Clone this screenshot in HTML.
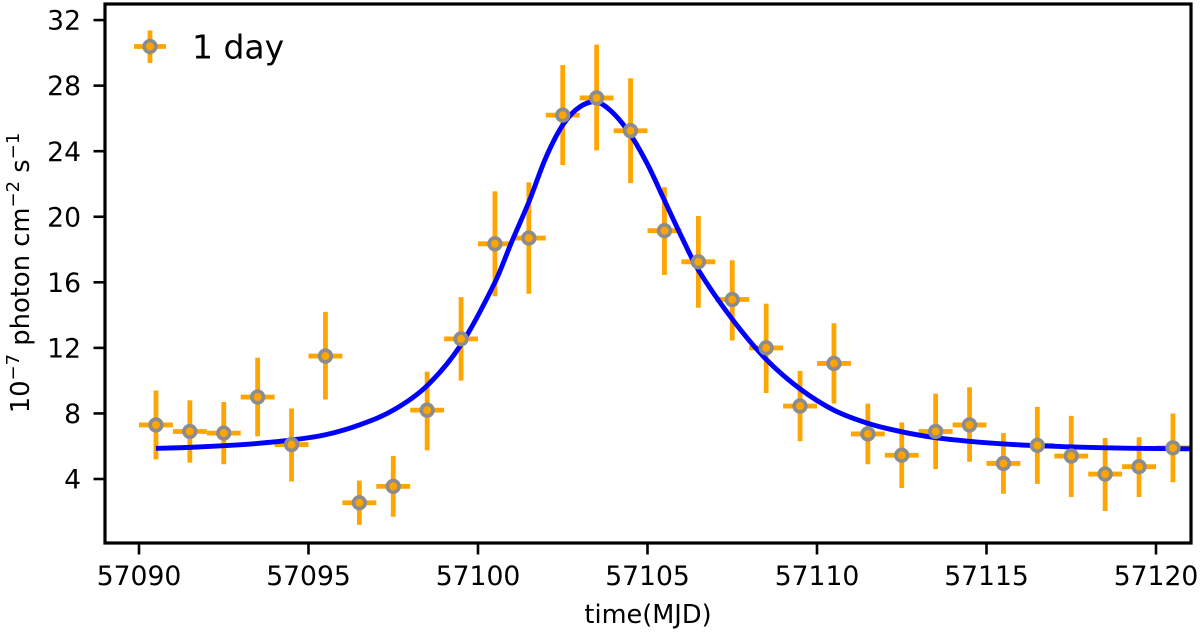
<!DOCTYPE html>
<html>
<head>
<meta charset="utf-8">
<style>
html,body{margin:0;padding:0;background:#fff;width:1200px;height:633px;overflow:hidden}
svg{display:block}
text{font-family:"DejaVu Sans","Liberation Sans",sans-serif;fill:#000}
</style>
</head>
<body>
<svg id="chart" width="1200" height="633" viewBox="0 0 1200 633" xmlns="http://www.w3.org/2000/svg">
  <defs><clipPath id="plot-clip"><rect x="105" y="4" width="1086" height="539"/></clipPath></defs>
  <g id="bars" clip-path="url(#plot-clip)"></g>
  <path id="fit" clip-path="url(#plot-clip)" fill="none" stroke="#0000ff" stroke-width="4.9"/>
  <g id="markers"></g>
  <rect x="105" y="4" width="1086" height="539" fill="none" stroke="#000" stroke-width="3.2"/>
  <g id="xticks"></g>
  <g id="yticks"></g>
  <text x="648" y="623" text-anchor="middle" font-size="25.6">time(MJD)</text>
  <text transform="translate(29,273) rotate(-90)" text-anchor="middle" font-size="25.8">10<tspan dy="-10" font-size="18">−7</tspan><tspan dy="10"> photon cm</tspan><tspan dy="-10" font-size="18">−2</tspan><tspan dy="10"> s</tspan><tspan dy="-10" font-size="18">−1</tspan></text>
  <g>
    <line x1="134" x2="166" y1="46.5" y2="46.5" stroke="#ffa500" stroke-width="4.8"/>
    <line x1="150" x2="150" y1="30.5" y2="63" stroke="#ffa500" stroke-width="4.8"/>
    <circle cx="150" cy="46.5" r="5.8" fill="#ffa500" stroke="#8c8c8c" stroke-width="3.7"/>
    <text x="192" y="58.5" font-size="33">1 day</text>
  </g>
</svg>
<script>
const times = [57090.5,57091.5,57092.5,57093.5,57094.5,57095.5,57096.5,57097.5,57098.5,57099.5,57100.5,57101.5,57102.5,57103.5,57104.5,57105.5,57106.5,57107.5,57108.5,57109.5,57110.5,57111.5,57112.5,57113.5,57114.5,57115.5,57116.5,57117.5,57118.5,57119.5,57120.5];
const fluxValues = [7.3,6.9,6.8,9.0,6.1,11.5,2.55,3.55,8.2,12.55,18.35,18.7,26.2,27.25,25.25,19.15,17.25,14.95,12.0,8.45,11.05,6.75,5.45,6.9,7.3,4.95,6.05,5.4,4.3,4.75,5.9];
const errorLow = [5.2,5.0,4.9,6.6,3.85,8.85,1.2,1.7,5.75,10.0,15.15,15.3,23.15,24.05,22.05,16.45,14.45,12.45,9.25,6.3,8.6,4.9,3.45,4.6,5.05,3.1,3.7,2.9,2.05,2.9,3.8];
const errorHigh = [9.4,8.8,8.7,11.4,8.3,14.2,3.9,5.4,10.55,15.1,21.55,22.1,29.25,30.5,28.45,21.8,20.05,17.35,14.7,10.6,13.5,8.6,7.45,9.2,9.6,6.8,8.4,7.85,6.5,6.55,8.0];
const binHalfWidth = [0.5];
const fitTimes = [57090.5,57091.5,57092.5,57093.5,57094.5,57095.5,57096.5,57097.5,57098.5,57099.5,57100.5,57101,57101.5,57102,57102.5,57103,57103.5,57104,57104.5,57105,57105.5,57106,57106.5,57107.5,57108.5,57109.5,57110.5,57111.5,57112.5,57113.5,57114.5,57115.5,57116.5,57117.5,57118.5,57119.5,57120.5,57121];
const fitValues = [5.87,5.93,6.03,6.17,6.38,6.7,7.3,8.2,9.7,12.2,16.0,18.5,20.9,23.6,25.6,26.7,27.0,26.3,25.0,23.2,21.0,18.8,16.75,13.75,11.3,9.5,8.2,7.4,6.88,6.52,6.3,6.14,6.03,5.96,5.9,5.87,5.85,5.84];
const xTickValues = [57090,57095,57100,57105,57110,57115,57120];
const yTickValues = [4,8,12,16,20,24,28,32];

const NS = 'http://www.w3.org/2000/svg';
function xScale(v){ return 139 + (v - 57090) * 33.9; }
function yScale(v){ return 479 - (v - 4) * 16.39; }
function make(tag, attrs, parent){
  const el = document.createElementNS(NS, tag);
  for (const k in attrs) el.setAttribute(k, attrs[k]);
  parent.appendChild(el);
  return el;
}

const barsG = document.getElementById('bars');
const markersG = document.getElementById('markers');
times.forEach(function(t, i){
  const px = xScale(t), py = yScale(fluxValues[i]);
  const v = make('line', {x1:px, x2:px, y1:yScale(errorLow[i]), y2:yScale(errorHigh[i]), stroke:'#ffa500', 'stroke-width':4.8}, barsG);
  
  
  const h = make('line', {x1:xScale(t - binHalfWidth[0]), x2:xScale(t + binHalfWidth[0]), y1:py, y2:py, stroke:'#ffa500', 'stroke-width':4.8}, barsG);
  
  
  const c = make('circle', {cx:px, cy:py, r:5.8, fill:'#ffa500', stroke:'#8c8c8c', 'stroke-width':3.7}, markersG);
  
  
});

const pts = fitTimes.map(function(t, i){ return [xScale(t), yScale(fitValues[i])]; });
const slopes = pts.map(function(p, i){
  const a = pts[Math.max(i - 1, 0)], b = pts[Math.min(i + 1, pts.length - 1)];
  return (b[1] - a[1]) / (b[0] - a[0]);
});
let d = 'M' + pts[0][0] + ' ' + pts[0][1];
for (let i = 0; i < pts.length - 1; i++) {
  const p1 = pts[i], p2 = pts[i + 1], h3 = (p2[0] - p1[0]) / 3;
  d += ' C' + (p1[0] + h3) + ' ' + (p1[1] + slopes[i] * h3) + ' ' + (p2[0] - h3) + ' ' + (p2[1] - slopes[i + 1] * h3) + ' ' + p2[0] + ' ' + p2[1];
}
document.getElementById('fit').setAttribute('d', d);

const xG = document.getElementById('xticks');
xTickValues.forEach(function(v){
  const px = xScale(v);
  const l = make('line', {x1:px, x2:px, y1:543, y2:554.5, stroke:'#000', 'stroke-width':2.6}, xG);
  
  
  const t = make('text', {x:px, y:585, 'text-anchor':'middle', 'font-size':26.6}, xG);
  
  
  t.textContent = v;
});

const yG = document.getElementById('yticks');
yTickValues.forEach(function(v){
  const py = yScale(v);
  const l = make('line', {x1:93.5, x2:105, y1:py, y2:py, stroke:'#000', 'stroke-width':2.6}, yG);
  
  
  const t = make('text', {x:81, y:py + 9.6, 'text-anchor':'end', 'font-size':26.6}, yG);
  
  
  t.textContent = v;
});
</script>
</body>
</html>
